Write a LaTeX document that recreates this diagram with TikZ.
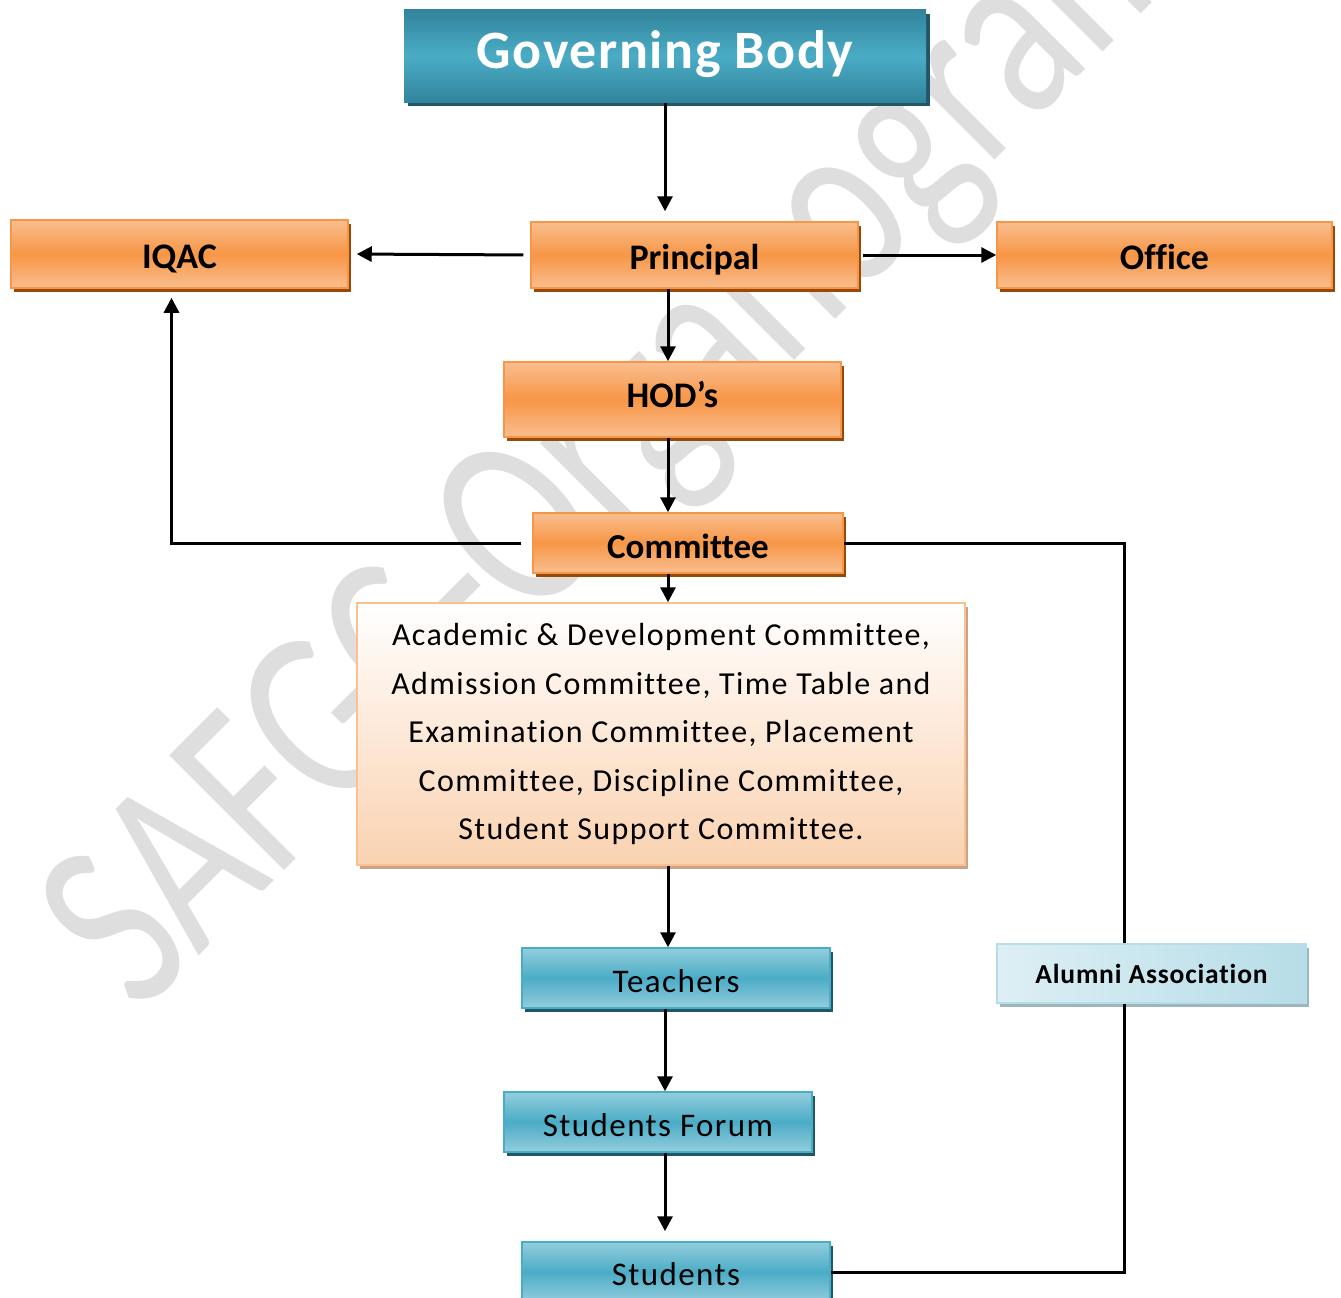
\documentclass[tikz,border=0pt]{standalone}
\usepackage{fontspec}
\setmainfont{Carlito}[Ligatures=NoCommon]
\newfontfamily\widefont{Carlito}[LetterSpace=4.3, Ligatures=NoCommon]
\newfontfamily\widebold{Carlito}[LetterSpace=3, Ligatures=NoCommon, UprightFont=*-Bold]
\usepackage{tikz}
\usetikzlibrary{arrows.meta, shapes, shadows}

\definecolor{orLight}{HTML}{F9BE8F}
\definecolor{orMid}{HTML}{F79646}
\definecolor{orShadow}{HTML}{984807}
\definecolor{gbDark}{HTML}{31849B}
\definecolor{gbMid}{HTML}{4BACC6}
\definecolor{gbShadow}{HTML}{205867}
\definecolor{blLight}{HTML}{93CDDD}
\definecolor{alLight}{HTML}{DDEFF4}
\definecolor{alDark}{HTML}{B7DDE8}
\definecolor{alShadow}{HTML}{9DB6BE}
\definecolor{listBot}{HTML}{FAD2B0}
\definecolor{listBorder}{HTML}{FAC090}
\definecolor{listShadow}{HTML}{C9A48A}
\definecolor{markGray}{HTML}{DEDEDE}

\tikzset{
  orbox/.style={draw=orMid, top color=orLight, bottom color=orLight, middle color=orMid,
    drop shadow={shadow xshift=3pt, shadow yshift=-4pt, fill=orShadow, opacity=1},
    text height=28pt, text depth=0pt,
    font=\bfseries\fontsize{36}{36}\selectfont},
  blbox/.style={draw=gbMid, top color=blLight, bottom color=blLight, middle color=gbMid,
    drop shadow={shadow xshift=3pt, shadow yshift=-4pt, fill=gbShadow, opacity=1},
    text height=29pt, text depth=0pt,
    font=\widefont\fontsize{33}{33}\selectfont}
}

\begin{document}
\begin{tikzpicture}[x=1pt,y=-1pt]
            \useasboundingbox (0,0) rectangle (1341,1298);
            % watermark
            \node[rotate=45, xscale=0.74, anchor=base west, inner sep=0pt, text=markGray,
                  font=\fontsize{253}{253}\selectfont] (mark) at (139,1016) {SAFGC-Organogram};

            \begin{scope}[every node/.style={rectangle, inner sep=0pt, line width=1.5pt}]
                \node[draw=none, top color=gbDark, bottom color=gbDark, middle color=gbMid,
                      drop shadow={shadow xshift=4pt, shadow yshift=-4pt, fill=gbShadow, opacity=1},
                      text=white, font=\widebold\fontsize{54}{54}\selectfont,
                      text height=24pt, text depth=0pt,
                      minimum width=522pt, minimum height=92pt] (gb) at (665,56) {Governing Body};
                \node[orbox, minimum width=337pt, minimum height=68pt] (iqac) at (179.5,254) {IQAC};
                \node[orbox, minimum width=327pt, minimum height=66pt] (prin) at (694.5,255) {Principal};
                \node[orbox, minimum width=335pt, minimum height=66pt] (office) at (1164.5,255) {Office};
                \node[orbox, text height=15pt, minimum width=337pt, minimum height=75pt] (hod) at (672.5,399.5) {HOD’s};
                \node[orbox, text height=30pt, font=\bfseries\fontsize{35}{35}\selectfont,
                      minimum width=310pt, minimum height=60pt] (com) at (688,543) {Committee};
                \node[draw=listBorder, top color=white, bottom color=listBot,
                      drop shadow={shadow xshift=3pt, shadow yshift=-4pt, fill=listShadow, opacity=1},
                      align=center, font=\widefont\fontsize{32}{48.5}\selectfont,
                      minimum width=608pt, minimum height=262pt] (list) at (661,734)
                      {Academic \& Development Committee,\\ Admission Committee, Time Table and\\
                       Examination Committee, Placement\\ Committee, Discipline Committee,\\
                       Student Support Committee.};
                \node[blbox, minimum width=308pt, minimum height=60pt] (teach) at (676,978) {Teachers};
                \node[blbox, minimum width=308pt, minimum height=60pt] (forum) at (658,1122) {Students Forum};
                \node[blbox, text height=26pt, minimum width=308pt, minimum height=60pt] (stud) at (676,1272) {Students};
                \node[draw=alDark, left color=alLight, right color=alDark,
                      drop shadow={shadow xshift=3pt, shadow yshift=-4pt, fill=alShadow, opacity=1},
                      font=\widebold\fontsize{27.5}{27.5}\selectfont,
                      text height=19pt, text depth=0pt,
                      minimum width=309pt, minimum height=59pt] (alum) at (1151.5,973.5) {Alumni Association};
            \end{scope}

            \begin{scope}[>={Stealth[black, inset=0pt, length=15pt, width=15pt]},
                          every edge/.style={draw=black, line width=3pt}]
                \path[->] (gb.south) edge[shorten >=10pt] (gb.south |- prin.north);
                \path[->] (prin.west) edge[shorten <=7pt, shorten >=8pt] (iqac.east);
                \path[->] (prin.east) edge[shorten <=4pt] (office.west);
                \path[->] ([xshift=-4.5pt]hod.north |- prin.south) edge ([xshift=-4.5pt]hod.north);
                \path[->] ([xshift=-4.5pt]hod.south) edge ([xshift=-4.5pt]hod.south |- com.north);
                \path[->] ([xshift=-4.5pt]hod.south |- com.south) edge ([xshift=-4.5pt]hod.south |- list.north);
                \path[->] ([xshift=-4.5pt]hod.south |- list.south) edge ([xshift=-4.5pt]hod.south |- teach.north);
                \path[->] (gb.south |- teach.south) edge (gb.south |- forum.north);
                \path[->] (gb.south |- forum.south) edge[shorten >=10pt] (gb.south |- stud.north);
            \end{scope}
            \begin{scope}[>={Stealth[black, inset=0pt, length=15pt, width=15pt]}, line width=3pt]
                \draw[->, shorten <=11pt, shorten >=9pt] (com.west) -| ([xshift=-8pt]iqac.south);
                \draw (com.east) -| ([xshift=-27pt]alum.north);
                \draw ([xshift=-27pt]alum.south) |- (stud.east);
            \end{scope}
\end{tikzpicture}
\end{document}
